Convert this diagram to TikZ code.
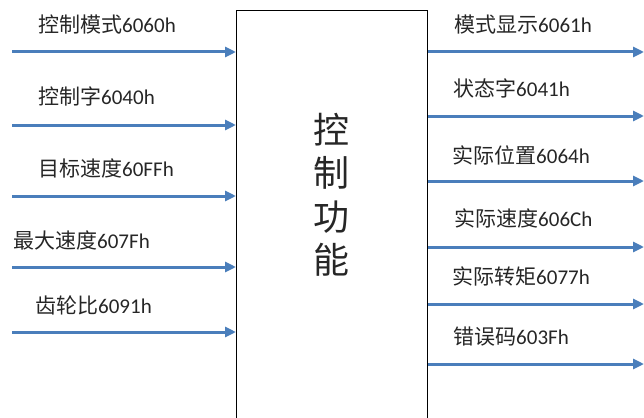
\documentclass[tikz,border=0pt]{standalone}
\usepackage{fontspec}
\newfontfamily\cjkfont{Noto Sans CJK SC}
\newfontfamily\latfont{Carlito}
\usetikzlibrary{arrows.meta}
\definecolor{arrowblue}{RGB}{74,126,187}
\definecolor{txt}{RGB}{38,38,38}
\newcommand\lbl[2]{{\cjkfont #1}{\latfont #2}}
\begin{document}
\begin{tikzpicture}[x=1pt,y=-1pt,
  flow/.style={draw=arrowblue, line width=3pt, -{Triangle[length=11pt,width=10pt]}},
  lab/.style={anchor=base west, inner sep=0pt, text=txt, font=\fontsize{21}{24}\selectfont},
  funcbox/.style={draw=black, line width=1.1pt, minimum width=191pt, minimum height=440pt, anchor=north west, inner sep=0pt}]
\useasboundingbox (0,0) rectangle (644,417);
\clip (0,0) rectangle (644,417);
\node[funcbox] (box) at (236,10) {};
\node[text=txt, font=\cjkfont\fontsize{36}{43.5}\selectfont, align=center, inner sep=0pt] (func) at (331,195) {控\\制\\功\\能};
% inputs
\coordinate (i1) at (12,52);
\coordinate (i2) at (12,125);
\coordinate (i3) at (12,196);
\coordinate (i4) at (12,267);
\coordinate (i5) at (12,332);
\foreach \i in {1,...,5} {\draw[flow] (i\i) -- (i\i -| box.west);}
\node[lab] (l1) at (38,33) {\lbl{控制模式}{6060h}};
\node[lab] (l2) at (38,105) {\lbl{控制字}{6040h}};
\node[lab] (l3) at (38,176) {\lbl{目标速度}{60FFh}};
\node[lab] (l4) at (13,248) {\lbl{最大速度}{607Fh}};
\node[lab] (l5) at (35,313) {\lbl{齿轮比}{6091h}};
% outputs
\coordinate (o1) at (644,52);
\coordinate (o2) at (644,116);
\coordinate (o3) at (644,181);
\coordinate (o4) at (644,247);
\coordinate (o5) at (644,304);
\coordinate (o6) at (644,364);
\foreach \i in {1,...,6} {\draw[flow] (o\i -| box.east) -- (o\i);}
\node[lab] (r1) at (454,33) {\lbl{模式显示}{6061h}};
\node[lab] (r2) at (453,96) {\lbl{状态字}{6041h}};
\node[lab] (r3) at (452,163) {\lbl{实际位置}{6064h}};
\node[lab] (r4) at (454,226) {\lbl{实际速度}{606Ch}};
\node[lab] (r5) at (452,284) {\lbl{实际转矩}{6077h}};
\node[lab] (r6) at (453,344) {\lbl{错误码}{603Fh}};
\end{tikzpicture}
\end{document}
